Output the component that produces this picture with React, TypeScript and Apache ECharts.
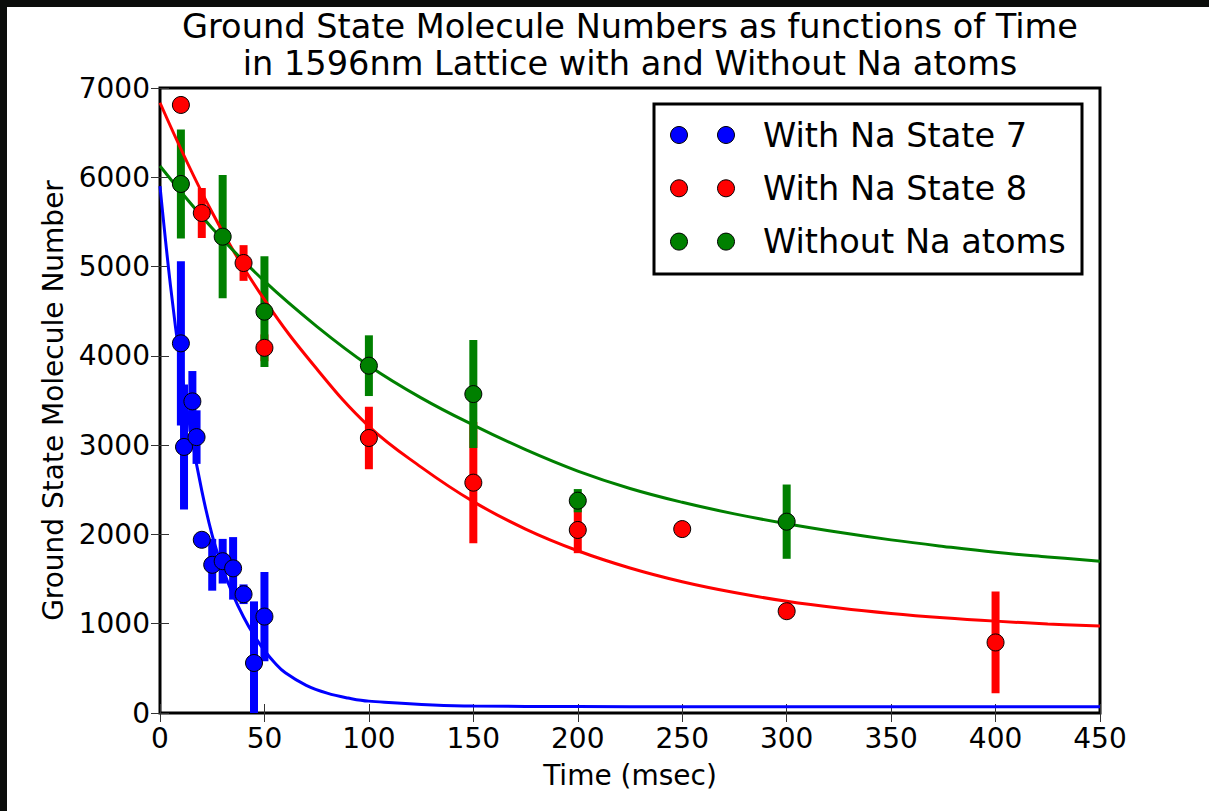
import React, { useEffect, useRef } from "react";
import * as echarts from "echarts";

// Measured points (time in msec, molecule number, error half-width)
const blueT = [10, 11.5, 15.5, 17.5, 20, 25, 30, 35, 40, 45, 50];
const blueN = [4140, 2980, 3490, 3090, 1940, 1660, 1700, 1620, 1330, 560, 1080];
const blueErr = [920, 700, 340, 300, 80, 290, 250, 350, 110, 690, 500];

const redT = [10, 20, 40, 50, 100, 150, 200, 250, 300, 400];
const redN = [6810, 5600, 5040, 4090, 3080, 2580, 2050, 2060, 1140, 790];
const redErr = [60, 280, 200, 150, 350, 680, 260, 60, 60, 570];

const greenT = [10, 30, 50, 100, 150, 200, 300];
const greenN = [5925, 5335, 4495, 3890, 3572, 2378, 2143];
const greenErr = [610, 690, 620, 340, 605, 130, 416];

// Fitted decay curves, sampled along time
const blueFitT = [0, 5, 10, 15, 20, 25, 30, 35, 40, 45, 50, 55, 60, 70, 80, 90, 100, 150, 200, 250, 300, 350, 400, 450];
const blueFitN = [5900, 4790, 3870, 3110, 2490, 1990, 1620, 1320, 1075, 870, 700, 560, 450, 310, 222, 168, 133, 78, 72, 70, 70, 70, 70, 70];

const redFitT = [0, 25, 50, 75, 100, 125, 150, 175, 200, 225, 250, 275, 300, 325, 350, 375, 400, 425, 450];
const redFitN = [6835, 5605, 4629, 3855, 3210, 2754, 2367, 2060, 1817, 1624, 1470, 1349, 1252, 1176, 1115, 1067, 1029, 998, 974];

const greenFitT = [0, 25, 50, 75, 100, 125, 150, 175, 200, 225, 250, 275, 300, 325, 350, 375, 400, 425, 450];
const greenFitN = [6126, 5430, 4836, 4331, 3890, 3530, 3225, 2950, 2710, 2515, 2360, 2230, 2120, 2024, 1939, 1866, 1800, 1748, 1700];

const xTicks = { min: 0, max: 450, interval: 50 };
const yTicks = { min: 0, max: 7000, interval: 1000 };

const BLUE = "#0000ff";
const RED = "#ff0000";
const GREEN = "#008000";
const FONT = "DejaVu Sans";

const legendItems = [
  { label: "With Na State 7", color: BLUE },
  { label: "With Na State 8", color: RED },
  { label: "Without Na atoms", color: GREEN },
];

function zip(a: number[], b: number[]) {
  return a.map((v, i) => [v, b[i]]);
}

function errorData(t: number[], n: number[], e: number[]) {
  return t.map((v, i) => [v, n[i] - e[i], n[i] + e[i]]);
}

function errorSeries(name: string, color: string, t: number[], n: number[], e: number[]) {
  return {
    type: "custom",
    name,
    clip: true,
    z: 2,
    data: errorData(t, n, e),
    encode: { x: 0, y: [1, 2] },
    renderItem: (_params: any, api: any) => {
      const x = api.value(0);
      const top = api.coord([x, api.value(2)]);
      const bottom = api.coord([x, api.value(1)]);
      return {
        type: "rect",
        shape: { x: top[0] - 4, y: top[1], width: 8, height: bottom[1] - top[1] },
        style: { fill: color },
      };
    },
  };
}

function fitSeries(color: string, t: number[], n: number[]) {
  return {
    type: "line",
    data: zip(t, n),
    showSymbol: false,
    smooth: 0.4,
    z: 3,
    lineStyle: { color, width: 3 },
    silent: true,
  };
}

function pointSeries(color: string, t: number[], n: number[]) {
  return {
    type: "scatter",
    data: zip(t, n),
    symbol: "circle",
    symbolSize: 17,
    z: 4,
    itemStyle: { color, borderColor: "#000", borderWidth: 1, opacity: 1 },
  };
}

export default function App() {
  const ref = useRef<HTMLDivElement>(null);

  useEffect(() => {
    if (!ref.current) return;
    const chart = echarts.init(ref.current, undefined, { renderer: "svg" });

    const axisCommon = {
      type: "value",
      splitLine: { show: false },
      axisLine: { show: false },
      axisTick: { show: true, inside: true, length: 9, lineStyle: { color: "#333", width: 1 } },
    };
    const plain = (v: number) => String(v);

    const legendRows = legendItems
      .map((it, i) => {
        const cy = 135 + i * 53.3;
        return [
          { type: "circle", shape: { cx: 679, cy, r: 8.5 }, style: { fill: it.color, stroke: "#000", lineWidth: 1 } },
          { type: "circle", shape: { cx: 726, cy, r: 8.5 }, style: { fill: it.color, stroke: "#000", lineWidth: 1 } },
          {
            type: "text",
            x: 763,
            y: cy,
            style: { text: it.label, fontFamily: FONT, fontSize: 33.6, fill: "#000", verticalAlign: "middle", align: "left" },
          },
        ];
      })
      .flat();

    chart.setOption({
      animation: false,
      backgroundColor: "#ffffff",
      textStyle: { fontFamily: FONT },
      title: {
        text: "Ground State Molecule Numbers as functions of Time\nin 1596nm Lattice with and Without Na atoms",
        left: 625,
        top: 3,
        textAlign: "center",
        textStyle: { fontFamily: FONT, fontSize: 33.6, fontWeight: "normal", color: "#000", lineHeight: 37 },
      },
      grid: {
        left: 160,
        right: 109,
        top: 88,
        bottom: 98,
        show: true,
        borderColor: "#000",
        borderWidth: 3,
        backgroundColor: "#fff",
      },
      xAxis: [
        {
          ...axisCommon,
          ...xTicks,
          position: "bottom",
          name: "Time (msec)",
          nameLocation: "middle",
          nameGap: 48,
          nameTextStyle: { fontFamily: FONT, fontSize: 28, color: "#000" },
          axisLabel: { fontFamily: FONT, fontSize: 28, color: "#000", margin: 11, formatter: plain },
        },
        {
          ...axisCommon,
          ...xTicks,
          position: "top",
          axisLabel: { show: false },
        },
      ],
      yAxis: [
        {
          ...axisCommon,
          ...yTicks,
          position: "left",
          name: "Ground State Molecule Number",
          nameLocation: "middle",
          nameGap: 92,
          nameTextStyle: { fontFamily: FONT, fontSize: 28, color: "#000" },
          axisLabel: { fontFamily: FONT, fontSize: 28, color: "#000", margin: 10, formatter: plain },
        },
        {
          ...axisCommon,
          ...yTicks,
          position: "right",
          axisLabel: { show: false },
        },
      ],
      series: [
        fitSeries(BLUE, blueFitT, blueFitN),
        fitSeries(RED, redFitT, redFitN),
        fitSeries(GREEN, greenFitT, greenFitN),
        errorSeries("With Na State 7", BLUE, blueT, blueN, blueErr),
        errorSeries("With Na State 8", RED, redT, redN, redErr),
        errorSeries("Without Na atoms", GREEN, greenT, greenN, greenErr),
        pointSeries(BLUE, blueT, blueN),
        pointSeries(RED, redT, redN),
        pointSeries(GREEN, greenT, greenN),
      ],
      graphic: [
        { type: "rect", z: 200, shape: { x: 0, y: 0, width: 1209, height: 7 }, style: { fill: "#0b0d0b" } },
        { type: "rect", z: 200, shape: { x: 0, y: 0, width: 7, height: 811 }, style: { fill: "#0b0d0b" } },
        {
          type: "group",
          z: 100,
          children: [
            {
              type: "rect",
              shape: { x: 654, y: 104, width: 428, height: 170 },
              style: { fill: "#fff", stroke: "#000", lineWidth: 3 },
            },
            ...legendRows,
          ],
        },
      ],
    });

    return () => chart.dispose();
  }, []);

  return (
    <div
      ref={ref}
      style={{ position: "fixed", left: 0, top: 0, width: 1209, height: 811, background: "#fff" }}
    />
  );
}
